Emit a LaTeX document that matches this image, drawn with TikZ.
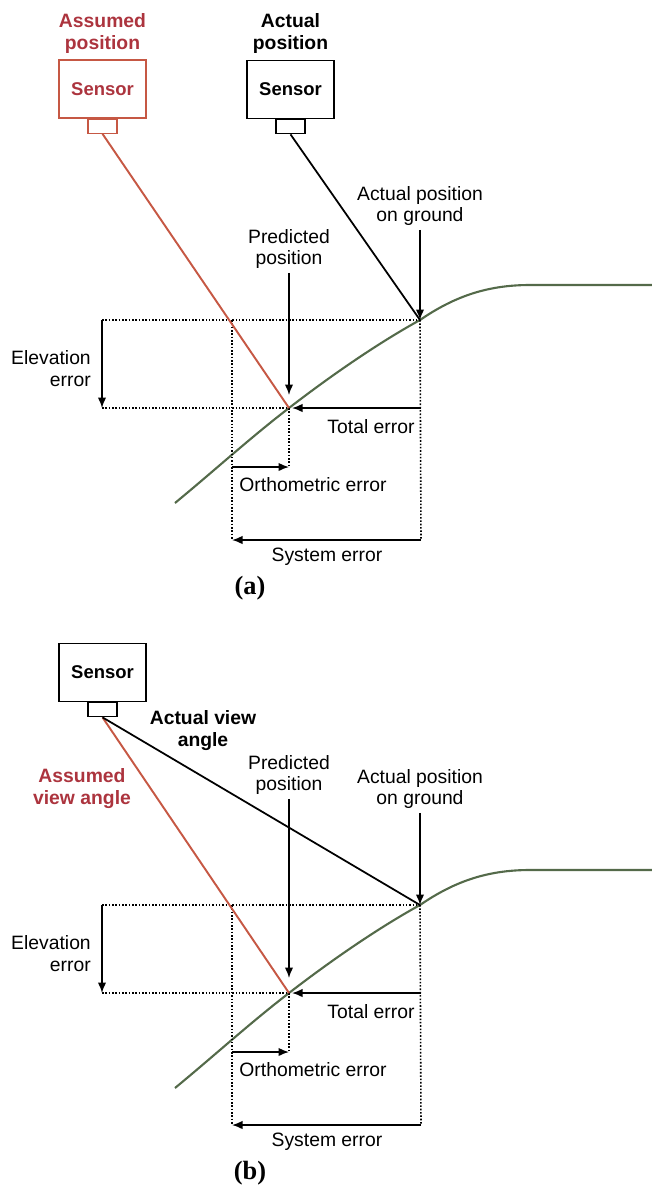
\documentclass[tikz,border=0pt]{standalone}
\usepackage{fontspec}
\setmainfont{Liberation Sans}
\newfontfamily\tagfont{Liberation Serif}
\usepackage{tikz}
\usetikzlibrary{arrows.meta,positioning}
\definecolor{assumedred}{RGB}{172,52,62}
\definecolor{rayred}{RGB}{198,88,68}
\definecolor{groundgreen}{RGB}{84,106,74}

\tikzset{
	lbl/.style={font=\fontsize{11}{12.5}\selectfont,align=center,inner sep=2pt},
	boldlbl/.style={lbl,font=\fontsize{11}{12.5}\selectfont\bfseries},
	sensorbox/.style={draw,line width=0.7pt,fill=white,minimum width=17.4mm,minimum height=11.6mm,font=\fontsize{10.5}{12}\selectfont\bfseries},
	lens/.style={draw,line width=0.7pt,minimum width=5.8mm,minimum height=2.8mm,inner sep=0pt},
	dotline/.style={densely dotted,line width=0.9pt},
	errarrow/.style={->,line width=0.9pt},
	ground/.style={groundgreen,line width=1.2pt},
	paneltag/.style={font=\tagfont\fontsize{15}{18}\selectfont\bfseries}
}

\begin{document}
\begin{tikzpicture}[x=0.2mm,y=-0.2mm,>={Latex[length=2.1mm,width=1.7mm]}]
			\useasboundingbox (0,0) rectangle (652,1196);
			
			% ground profile and error bars, same in (a) and (b)
			\foreach \dy/\tg in {0/a,585/b}{
				\begin{scope}[shift={(0,\dy)}]
					\coordinate (G\tg) at (420,320);
					\coordinate (P\tg) at (289,408);
					\coordinate (E\tg) at (102,320);
					\coordinate (F\tg) at (102,408);
					\coordinate (O\tg) at (232,320);
					\coordinate (Q\tg) at (232,467);
					\coordinate (R\tg) at (289,467);
					\coordinate (S\tg) at (232,540);
					\coordinate (T\tg) at (421,540);
					\coordinate (U\tg) at (421,408);
					
					\draw[ground] (175,503) .. controls (215,470) and (250,438) .. (P\tg)
					.. controls (333,374) and (380,342) .. (G\tg)
					.. controls (455,296) and (488,285) .. (530,285) -- (652,285);
					
					\draw[dotline] (E\tg) -- (G\tg);
					\draw[dotline] (F\tg) -- (P\tg);
					\draw[dotline] (O\tg) -- (S\tg);
					\draw[dotline] (P\tg) -- (R\tg);
					\draw[dotline] (G\tg) -- (T\tg);
					
					\draw[errarrow] (E\tg) -- (F\tg);
					\draw[errarrow,shorten >=0.6mm] (U\tg) -- (P\tg);
					\draw[errarrow] (Q\tg) -- (R\tg);
					\draw[errarrow] (T\tg) -- (S\tg);
					
					\node[lbl,align=right] (elev\tg) at (51,369) {Elevation\\error};
					\node[lbl] (tot\tg) at (371,427) {Total error};
					\node[lbl] (ortho\tg) at (313,485) {Orthometric error};
					\node[lbl] (sys\tg) at (327,557) {System error};
				\end{scope}
			}
			
			% (a)
			\node[sensorbox,draw=rayred,text=assumedred] (sensA) at (102.5,89) {Sensor};
			\node[lens,draw=rayred,anchor=north] (lensA) at (sensA.south) {};
			\node[boldlbl,text=assumedred,above=0.5mm of sensA] (assumedA) {Assumed\\position};
			\node[sensorbox] (sensB) at (290.5,89.5) {Sensor};
			\node[lens,anchor=north] (lensB) at (sensB.south) {};
			\node[boldlbl,above=0.5mm of sensB] (actualB) {Actual\\position};
			
			\draw[rayred,line width=1.1pt] (lensA.south) -- (Pa);
			\draw[line width=1pt] (lensB.south) -- (Ga);
			
			\node[lbl] (preda) at (289,249) {Predicted\\position};
			\node[lbl] (grounda) at (420,206) {Actual position\\on ground};
			\draw[errarrow,shorten >=2.6mm] (preda.south) -- (Pa);
			\draw[errarrow] (grounda.south) -- (Ga);
			
			\node[paneltag] (taga) at (250,588) {(a)};
			
			% (b)
			\node[sensorbox] (sensC) at (102.5,672.5) {Sensor};
			\node[lens,anchor=north] (lensC) at (sensC.south) {};
			
			\draw[rayred,line width=1.1pt] (lensC.south) -- (Pb);
			\draw[line width=1pt] (lensC.south) -- (Gb);
			
			\node[boldlbl] (viewC) at (203,731) {Actual view\\angle};
			\node[boldlbl,text=assumedred] (assumedC) at (82,789) {Assumed\\view angle};
			\node[lbl] (predb) at (289,775) {Predicted\\position};
			\node[lbl] (groundb) at (420,789) {Actual position\\on ground};
			\draw[errarrow,shorten >=3mm] (predb.south) -- (Pb);
			\draw[errarrow] (groundb.south) -- (Gb);
			
			\node[paneltag] (tagb) at (250,1173) {(b)};
		\end{tikzpicture}
\end{document}
